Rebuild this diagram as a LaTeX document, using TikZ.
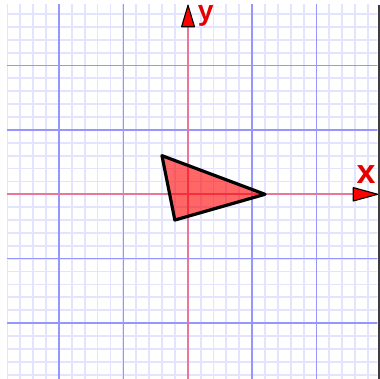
\documentclass[tikz,border=0pt]{standalone}
\usepackage{fontspec}
\setsansfont{Liberation Sans}
\definecolor{minorgrid}{RGB}{228,228,255}
\definecolor{majorgrid}{RGB}{150,150,255}
\definecolor{axiscol}{RGB}{232,120,150}
\definecolor{trifill}{RGB}{255,0,0}
\definecolor{edgegray}{RGB}{60,60,60}
\tikzset{
  minorline/.style={draw=minorgrid, line width=0.8pt},
  majorline/.style={draw=majorgrid, line width=0.6pt},
  axisline/.style={draw=axiscol, line width=0.8pt},
  arrowhead/.style={fill=red, draw=black, line width=0.5pt, line join=round},
  axislabel/.style={text=red!90!black, font=\sffamily\bfseries, inner sep=0pt},
  trishape/.style={fill=trifill, fill opacity=0.6, draw=black, line width=1.4pt, line join=round}
}
\begin{document}
\begin{tikzpicture}[x=1cm,y=1cm]
\useasboundingbox (-2.915,-2.868) rectangle (2.986,3.017);
\fill[white] (-2.915,-2.868) rectangle (2.986,3.017);
\begin{scope}
\clip (-2.806,-2.868) rectangle (2.947,2.94);
\foreach \i in {-14,...,15} {
  \draw[minorline] (\i*0.2,-3) -- (\i*0.2,3);
  \draw[minorline] (-3,\i*0.2) -- (3,\i*0.2);
}
\foreach \i in {-2,-1,1,2} {
  \draw[majorline] (\i,-3) -- (\i,3);
  \draw[majorline] (-3,\i) -- (3,\i);
}
\end{scope}
\fill[edgegray] (2.948,-2.868) rectangle (2.986,2.94);
% axes
\coordinate (xl) at (-2.806,0);
\coordinate (xb) at (2.571,0);
\coordinate (yb0) at (0,-2.868);
\coordinate (yb) at (0,2.602);
\draw[axisline] (xl) -- (xb);
\draw[axisline] (yb0) -- (yb);
% triangle
\coordinate (A) at (-0.4,0.6);
\coordinate (B) at (1.2,0);
\coordinate (C) at (-0.2,-0.4);
\draw[trishape] (A) -- (B) -- (C) -- cycle;
% arrowheads
\draw[arrowhead] (2.571,0.104) -- (2.95,0) -- (2.571,-0.104) -- cycle;
\draw[arrowhead] (-0.095,2.602) -- (0.005,2.935) -- (0.105,2.602) -- cycle;
% labels
\node[axislabel, anchor=base west, font=\sffamily\bfseries\fontsize{15}{17}\selectfont] (xlab) at (2.615,0.171) {x};
\node[axislabel, anchor=base west, font=\sffamily\bfseries\fontsize{12.5}{14}\selectfont] (ylab) at (0.15,2.70) {y};
\end{tikzpicture}
\end{document}
